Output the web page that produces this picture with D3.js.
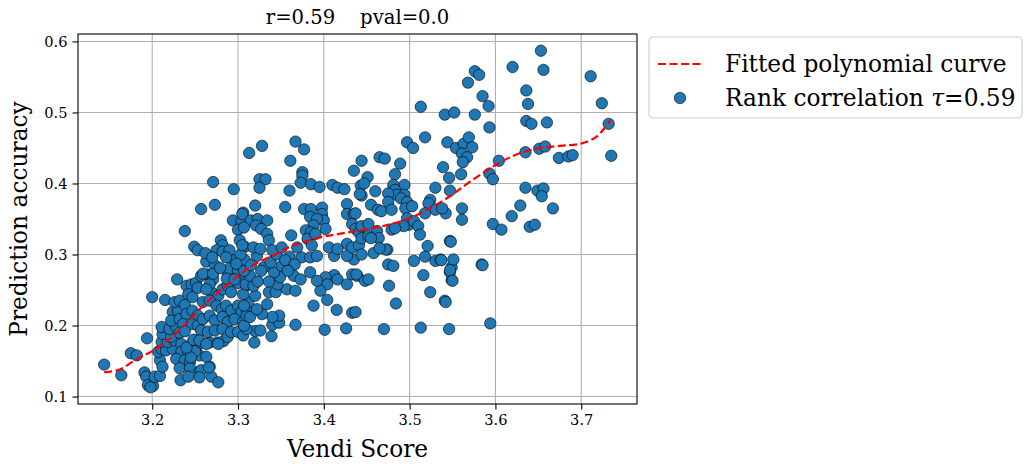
<!DOCTYPE html>
<html>
<head>
<meta charset="utf-8">
<script src="https://cdn.jsdelivr.net/npm/d3@7"></script>
<style>
  body { margin: 0; background: #fff; }
  svg text { font-family: "DejaVu Serif", serif; }
</style>
</head>
<body>
<svg id="chart"></svg>
<script>
// Vendi score vs prediction accuracy, [x, y] per sample
const points = [
  [3.144,0.145],[3.164,0.130],[3.175,0.161],[3.182,0.158],[3.194,0.182],[3.200,0.240],[3.215,0.236],
  [3.191,0.134],[3.193,0.128],[3.195,0.116],[3.201,0.115],[3.198,0.113],[3.203,0.128],[3.209,0.129],
  [3.209,0.151],[3.212,0.142],[3.207,0.163],[3.211,0.167],[3.216,0.165],[3.224,0.167],
  [3.211,0.177],[3.218,0.177],[3.226,0.179],[3.212,0.188],[3.222,0.184],[3.211,0.198],[3.220,0.195],[3.228,0.198],
  [3.224,0.219],[3.230,0.221],[3.222,0.207],[3.232,0.209],[3.226,0.233],[3.232,0.235],[3.238,0.229],[3.229,0.265],
  [3.240,0.256],[3.246,0.258],[3.251,0.260],[3.242,0.244],[3.247,0.240],[3.240,0.216],[3.247,0.221],[3.253,0.214],
  [3.236,0.202],[3.246,0.202],[3.253,0.200],[3.232,0.190],[3.238,0.192],[3.234,0.174],[3.244,0.172],[3.251,0.179],
  [3.234,0.163],[3.242,0.160],[3.251,0.165],[3.228,0.153],[3.238,0.151],[3.244,0.149],[3.232,0.140],[3.244,0.140],
  [3.233,0.123],[3.242,0.128],[3.255,0.135],[3.257,0.137],[3.267,0.142],[3.269,0.128],[3.277,0.120],[3.255,0.158],
  [3.263,0.156],[3.250,0.164],[3.245,0.155],[3.240,0.169],[3.248,0.180],[3.257,0.176],[3.267,0.176],[3.276,0.176],
  [3.283,0.178],[3.319,0.176],[3.255,0.127],[3.266,0.141],
  [3.269,0.247],[3.277,0.242],[3.282,0.251],[3.288,0.256],[3.292,0.247],
  [3.259,0.233],[3.267,0.235],[3.275,0.228],[3.281,0.223],[3.286,0.228],[3.292,0.221],[3.300,0.228],[3.304,0.219],
  [3.310,0.223],[3.312,0.233],
  [3.259,0.209],[3.267,0.214],[3.273,0.207],[3.282,0.212],[3.288,0.205],[3.296,0.209],[3.306,0.205],
  [3.257,0.193],[3.265,0.191],[3.273,0.193],[3.282,0.195],[3.288,0.184],[3.292,0.191],[3.300,0.191],[3.306,0.186],
  [3.255,0.179],[3.263,0.174],[3.277,0.174],
  [3.257,0.270],[3.265,0.272],[3.271,0.265],[3.267,0.258],[3.253,0.253],[3.263,0.251],
  [3.288,0.274],[3.308,0.270],[3.300,0.260],[3.310,0.256],[3.306,0.244],
  [3.271,0.402],[3.295,0.392],[3.257,0.364],[3.273,0.370],[3.238,0.333],[3.294,0.348],[3.304,0.346],[3.306,0.359],
  [3.300,0.335],[3.249,0.311],[3.253,0.306],[3.280,0.320],[3.282,0.313],[3.275,0.306],[3.282,0.304],[3.290,0.306],
  [3.263,0.290],[3.273,0.285],[3.302,0.320],[3.308,0.311],[3.296,0.292],[3.308,0.292],[3.290,0.280],[3.300,0.278],
  [3.259,0.273],[3.271,0.273],
  [3.435,0.293],[3.433,0.272],[3.439,0.270],[3.412,0.271],[3.416,0.265],[3.427,0.258],[3.402,0.268],[3.404,0.258],
  [3.396,0.249],[3.404,0.236],[3.388,0.228],[3.415,0.222],[3.433,0.218],[3.401,0.194],[3.426,0.196],[3.367,0.201],
  [3.339,0.185],[3.320,0.192],[3.326,0.193],[3.340,0.201],[3.348,0.204],[3.348,0.214],[3.340,0.212],
  [3.310,0.195],[3.307,0.200],[3.310,0.214],[3.314,0.212],[3.328,0.216],[3.334,0.230],[3.322,0.223],[3.307,0.228],
  [3.320,0.242],[3.336,0.247],[3.344,0.247],[3.357,0.251],[3.367,0.249],[3.346,0.258],[3.349,0.268],
  [3.365,0.270],[3.373,0.265],[3.384,0.275],[3.392,0.263],[3.342,0.275],[3.351,0.284],[3.330,0.282],[3.338,0.289],
  [3.309,0.258],[3.318,0.256],[3.314,0.270],[3.307,0.277],[3.374,0.296],[3.384,0.296],[3.392,0.298],[3.412,0.298],
  [3.427,0.298],[3.303,0.300],[3.322,0.298],[3.345,0.300],[3.360,0.297],
  [3.367,0.459],[3.377,0.448],[3.328,0.453],[3.313,0.443],[3.361,0.432],[3.375,0.416],[3.375,0.411],
  [3.325,0.406],[3.332,0.406],[3.325,0.394],[3.373,0.401],[3.385,0.399],[3.395,0.395],[3.410,0.398],[3.416,0.394],
  [3.424,0.392],[3.360,0.390],[3.444,0.432],[3.435,0.418],[3.443,0.397],[3.444,0.383],[3.320,0.369],[3.355,0.367],
  [3.377,0.364],[3.385,0.364],[3.384,0.353],[3.398,0.366],[3.398,0.357],[3.400,0.348],[3.402,0.336],[3.392,0.350],
  [3.388,0.341],[3.427,0.371],[3.427,0.357],[3.435,0.357],[3.433,0.343],[3.437,0.336],[3.441,0.331],
  [3.305,0.357],[3.315,0.348],[3.323,0.350],[3.334,0.348],[3.307,0.338],[3.321,0.341],[3.327,0.336],
  [3.334,0.329],[3.336,0.320],[3.362,0.327],[3.379,0.334],[3.385,0.331],[3.381,0.322],[3.390,0.329],
  [3.427,0.315],[3.433,0.310],[3.441,0.313],[3.406,0.310],[3.416,0.308],
  [3.305,0.313],[3.318,0.310],[3.326,0.308],[3.340,0.306],[3.351,0.310],[3.369,0.310],[3.386,0.313],
  [3.470,0.195],[3.513,0.197],[3.546,0.195],[3.484,0.231],[3.524,0.247],[3.541,0.235],[3.516,0.271],[3.476,0.256],
  [3.549,0.264],[3.547,0.275],[3.549,0.282],[3.505,0.291],[3.518,0.297],[3.530,0.291],[3.536,0.293],[3.551,0.293],
  [3.584,0.286],[3.475,0.286],[3.481,0.284],[3.438,0.272],[3.448,0.263],[3.452,0.265],[3.437,0.219],
  [3.444,0.300],[3.458,0.302],[3.474,0.307],
  [3.513,0.508],[3.541,0.497],[3.552,0.500],[3.576,0.497],[3.518,0.465],[3.497,0.458],[3.504,0.450],
  [3.544,0.458],[3.554,0.450],[3.563,0.456],[3.569,0.465],[3.573,0.451],[3.561,0.442],[3.567,0.437],[3.562,0.430],
  [3.465,0.437],[3.471,0.435],[3.489,0.428],[3.539,0.423],[3.483,0.413],[3.451,0.409],[3.560,0.413],
  [3.546,0.408],[3.494,0.398],[3.481,0.398],[3.447,0.400],[3.530,0.394],[3.547,0.390],[3.460,0.389],[3.442,0.385],
  [3.483,0.391],[3.485,0.384],[3.475,0.386],[3.494,0.384],[3.475,0.374],[3.490,0.379],[3.497,0.374],
  [3.455,0.370],[3.463,0.363],[3.467,0.361],[3.479,0.363],[3.495,0.365],[3.503,0.368],[3.524,0.377],[3.522,0.372],
  [3.530,0.363],[3.542,0.358],[3.538,0.365],[3.518,0.358],[3.561,0.365],[3.561,0.349],[3.497,0.351],[3.499,0.342],
  [3.505,0.347],[3.437,0.358],[3.444,0.340],[3.452,0.343],[3.493,0.340],[3.510,0.340],[3.512,0.328],
  [3.462,0.333],[3.464,0.323],[3.444,0.323],[3.452,0.326],[3.455,0.323],[3.479,0.335],[3.483,0.337],
  [3.521,0.312],[3.547,0.319],[3.472,0.307],[3.465,0.309],
  [3.653,0.587],[3.620,0.564],[3.656,0.560],[3.711,0.551],[3.576,0.558],[3.581,0.553],[3.568,0.542],[3.636,0.531],
  [3.585,0.523],[3.638,0.512],[3.592,0.509],[3.724,0.513],[3.636,0.488],[3.642,0.484],
  [3.660,0.486],[3.732,0.484],[3.593,0.479],[3.635,0.444],[3.651,0.449],[3.658,0.452],[3.735,0.439],
  [3.674,0.436],[3.685,0.438],[3.690,0.440],[3.604,0.432],[3.593,0.414],[3.597,0.406],
  [3.635,0.394],[3.649,0.390],[3.656,0.393],[3.654,0.382],[3.629,0.369],[3.667,0.365],[3.619,0.354],
  [3.597,0.343],[3.607,0.335],[3.640,0.339],[3.646,0.342],[3.548,0.318],[3.537,0.292],
  [3.547,0.278],[3.550,0.263],[3.585,0.285],[3.542,0.233],[3.594,0.203],
  [3.262,0.302],[3.270,0.296],[3.286,0.296],[3.298,0.287],[3.279,0.281],[3.287,0.266],[3.296,0.265],
  [3.315,0.285],[3.327,0.277],[3.323,0.262],[3.336,0.262],[3.355,0.292],[3.366,0.286],[3.358,0.277]
];

// fitted polynomial curve, read along its path
const curveX = [3.144,3.162,3.181,3.200,3.219,3.238,3.257,3.276,3.299,3.319,3.338,3.357,3.378,3.399,
  3.423,3.452,3.476,3.500,3.523,3.547,3.571,3.600,3.623,3.647,3.675,3.699,3.718,3.734];
const curveY = [0.134,0.138,0.152,0.164,0.180,0.201,0.225,0.246,0.269,0.286,0.297,0.309,0.318,0.325,
  0.330,0.336,0.342,0.351,0.365,0.382,0.403,0.426,0.440,0.449,0.453,0.456,0.466,0.489];

const xTicks = [3.2, 3.3, 3.4, 3.5, 3.6, 3.7];
const yTicks = [0.1, 0.2, 0.3, 0.4, 0.5, 0.6];
const legendLabels = ["Fitted polynomial curve", "Rank correlation "];

const W = 1026, H = 466;
const margin = { left: 78, right: 389, top: 34, bottom: 62 };
const width = W - margin.left - margin.right;
const height = H - margin.top - margin.bottom;

const svg = d3.select("#chart").attr("width", W).attr("height", H);
const g = svg.append("g").attr("transform", "translate(" + margin.left + "," + margin.top + ")");

const x = d3.scaleLinear().domain([3.1135, 3.765]).range([0, width]);
const y = d3.scaleLinear().domain([0.0895, 0.6105]).range([height, 0]);

// grid
g.append("g")
  .selectAll("line")
  .data(xTicks)
  .enter()
  .append("line")
  .attr("x1", (d) => x(d)).attr("x2", (d) => x(d))
  .attr("y1", 0).attr("y2", height)
  .attr("stroke", "#b0b0b0").attr("stroke-width", 1.1);
g.append("g")
  .selectAll("line")
  .data(yTicks)
  .enter()
  .append("line")
  .attr("x1", 0).attr("x2", width)
  .attr("y1", (d) => y(d)).attr("y2", (d) => y(d))
  .attr("stroke", "#b0b0b0").attr("stroke-width", 1.1);

// axes
const xAxis = d3.axisBottom(x).tickValues(xTicks).tickFormat(d3.format(".1f")).tickSizeOuter(0).tickSize(5.5).tickPadding(5);
const yAxis = d3.axisLeft(y).tickValues(yTicks).tickFormat(d3.format(".1f")).tickSizeOuter(0).tickSize(5.5).tickPadding(5);
g.append("g").attr("transform", "translate(0," + height + ")").call(xAxis);
g.append("g").call(yAxis);
g.selectAll(".domain").remove();
g.selectAll(".tick line").attr("stroke", "#000").attr("stroke-width", 1.1);
g.selectAll(".tick text").attr("font-size", 14.6).attr("fill", "#000").attr("font-family", "DejaVu Serif");

// points
g.append("g")
  .selectAll("circle")
  .data(points)
  .enter()
  .append("circle")
  .attr("cx", (d) => x(d[0]))
  .attr("cy", (d) => y(d[1]))
  .attr("r", 5.7)
  .attr("fill", "#1f77b4")
  .attr("stroke", "#000")
  .attr("stroke-width", 0.6);

// fitted curve
const line = d3.line()
  .x((d) => x(d[0]))
  .y((d) => y(d[1]))
  .curve(d3.curveCatmullRom);
g.append("path")
  .datum(curveX.map((cx, i) => [cx, curveY[i]]))
  .attr("d", line)
  .attr("fill", "none")
  .attr("stroke", "red")
  .attr("stroke-width", 2.2)
  .attr("stroke-dasharray", "8,3.5");

// frame
g.append("rect")
  .attr("width", width).attr("height", height)
  .attr("fill", "none").attr("stroke", "#000").attr("stroke-width", 1.1);

// title and axis labels
svg.append("text")
  .attr("x", margin.left + width / 2).attr("y", 24)
  .attr("text-anchor", "middle")
  .attr("font-size", 19.6)
  .style("white-space", "pre")
  .text("r=0.59    pval=0.0");
svg.append("text")
  .attr("x", margin.left + width / 2).attr("y", 457)
  .attr("text-anchor", "middle")
  .attr("font-size", 23.3)
  .text("Vendi Score");
svg.append("text")
  .attr("transform", "translate(27," + (margin.top + height / 2) + ") rotate(-90)")
  .attr("text-anchor", "middle")
  .attr("font-size", 23.3)
  .text("Prediction accuracy");

// legend
const lg = svg.append("g").attr("transform", "translate(649,37)");
lg.append("rect")
  .attr("width", 373).attr("height", 81).attr("rx", 4)
  .attr("fill", "#fff").attr("stroke", "#cccccc").attr("stroke-width", 1.1);
lg.append("line")
  .attr("x1", 9).attr("x2", 53).attr("y1", 27).attr("y2", 27)
  .attr("stroke", "red").attr("stroke-width", 2.2).attr("stroke-dasharray", "8,3.5");
lg.append("text").attr("x", 76).attr("y", 35).attr("font-size", 23.3).text(legendLabels[0]);
lg.append("circle")
  .attr("cx", 31).attr("cy", 61).attr("r", 5.7)
  .attr("fill", "#1f77b4").attr("stroke", "#000").attr("stroke-width", 0.6);
const t2 = lg.append("text").attr("x", 76).attr("y", 69).attr("font-size", 23.3).style("white-space", "pre");
t2.append("tspan").text(legendLabels[1]);
t2.append("tspan").attr("font-style", "italic").text("τ");
t2.append("tspan").text("=0.59");
</script>
</body>
</html>
